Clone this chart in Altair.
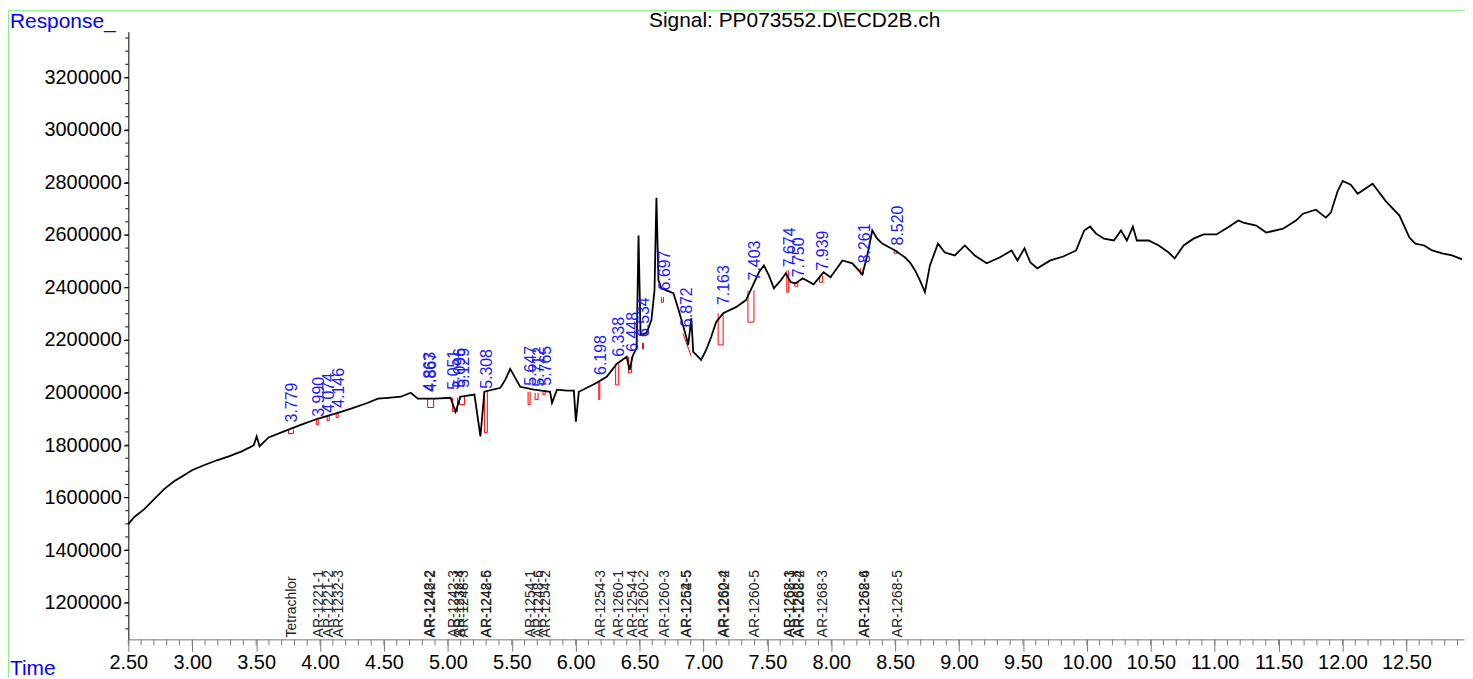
import altair as alt
import pandas as pd

# ---- chromatogram trace ----
time_min = [2.500, 2.547, 2.625, 2.702, 2.780, 2.858, 2.936, 2.998, 3.091, 3.193, 3.286, 3.387,
            3.481, 3.504, 3.527, 3.597, 3.753, 3.854, 3.986, 4.119, 4.243, 4.375, 4.453, 4.531,
            4.632, 4.710, 4.765, 4.897, 5.021, 5.060, 5.099, 5.208, 5.255, 5.286, 5.411, 5.449,
            5.488, 5.527, 5.566, 5.675, 5.800, 5.815, 5.854, 5.932, 5.986, 6.002, 6.025, 6.088,
            6.165, 6.243, 6.321, 6.399, 6.422, 6.446, 6.477, 6.492, 6.508, 6.555, 6.593, 6.617,
            6.632, 6.648, 6.671, 6.710, 6.765, 6.811, 6.866, 6.881, 6.905, 6.920, 6.944, 6.982,
            7.021, 7.060, 7.099, 7.154, 7.255, 7.333, 7.387, 7.434, 7.473, 7.512, 7.551, 7.605,
            7.644, 7.683, 7.722, 7.776, 7.862, 7.940, 7.994, 8.088, 8.165, 8.243, 8.282, 8.321,
            8.360, 8.399, 8.500, 8.578, 8.617, 8.656, 8.694, 8.733, 8.772, 8.835, 8.889, 8.967,
            9.045, 9.123, 9.216, 9.317, 9.411, 9.457, 9.512, 9.558, 9.613, 9.714, 9.815, 9.916,
            9.979, 10.025, 10.072, 10.134, 10.212, 10.267, 10.313, 10.360, 10.391, 10.484, 10.562,
            10.640, 10.687, 10.757, 10.835, 10.913, 11.014, 11.115, 11.185, 11.224, 11.325, 11.403,
            11.535, 11.636, 11.691, 11.792, 11.870, 11.909, 11.963, 12.002, 12.065, 12.119, 12.236,
            12.337, 12.446, 12.524, 12.570, 12.640, 12.702, 12.780, 12.858, 12.936]
response = [1499000, 1526000, 1556000, 1594000, 1632000, 1662000, 1685000, 1704000, 1723000, 1742000, 1757000, 1776000,
            1799000, 1833000, 1795000, 1829000, 1859000, 1878000, 1901000, 1920000, 1939000, 1961000, 1977000, 1980000,
            1984000, 1999000, 1977000, 1977000, 1980000, 1927000, 1984000, 1992000, 1833000, 2003000, 2018000, 2048000,
            2090000, 2056000, 2022000, 2011000, 2003000, 1961000, 2011000, 2007000, 2007000, 1889000, 2003000, 2018000,
            2037000, 2060000, 2109000, 2136000, 2086000, 2139000, 2170000, 2598000, 2219000, 2227000, 2276000, 2389000,
            2742000, 2427000, 2397000, 2389000, 2378000, 2306000, 2211000, 2181000, 2283000, 2155000, 2143000, 2124000,
            2162000, 2211000, 2268000, 2302000, 2325000, 2352000, 2408000, 2458000, 2484000, 2446000, 2397000, 2427000,
            2454000, 2420000, 2416000, 2435000, 2412000, 2458000, 2439000, 2503000, 2492000, 2450000, 2522000, 2617000,
            2586000, 2567000, 2541000, 2514000, 2495000, 2465000, 2427000, 2382000, 2484000, 2567000, 2533000, 2522000,
            2560000, 2522000, 2492000, 2514000, 2541000, 2503000, 2549000, 2495000, 2473000, 2503000, 2518000, 2541000,
            2617000, 2632000, 2605000, 2586000, 2579000, 2617000, 2579000, 2632000, 2579000, 2579000, 2560000,
            2533000, 2511000, 2560000, 2586000, 2602000, 2602000, 2632000, 2655000, 2647000, 2636000, 2609000,
            2624000, 2655000, 2681000, 2696000, 2666000, 2685000, 2768000, 2806000, 2791000, 2757000, 2795000,
            2730000, 2674000, 2590000, 2567000, 2560000, 2541000, 2530000, 2522000, 2507000]

# ---- retention time labels (blue) ----
peak_rt = [3.779, 3.990, 4.074, 4.146, 4.863, 4.867, 5.051, 5.096, 5.129, 5.308, 5.647, 5.712, 5.765,
           6.198, 6.338, 6.448, 6.534, 6.697, 6.872, 7.163, 7.403, 7.674, 7.750, 7.939, 8.261, 8.520]
peak_label_base = [1886000, 1908000, 1923000, 1942000, 2003000, 2003000, 2011000, 2018000, 2018000, 2014000,
                   2026000, 2022000, 2026000, 2067000, 2136000, 2155000, 2211000, 2389000, 2249000, 2333000,
                   2427000, 2477000, 2439000, 2465000, 2492000, 2560000]

# ---- compound names at the bottom ----
comp_rt = [3.779, 3.990, 4.074, 4.146, 4.863, 4.867, 5.051, 5.096, 5.129, 5.308, 5.310, 5.647, 5.712, 5.765,
           6.198, 6.338, 6.448, 6.534, 6.697, 6.872, 6.874, 7.163, 7.165, 7.403, 7.674, 7.676, 7.750, 7.752,
           7.939, 8.261, 8.263, 8.520]
comp_name = ["Tetrachlor", "AR-1221-1", "AR-1221-2", "AR-1232-3", "AR-1248-2", "AR-1242-2", "AR-1242-3",
             "AR-1232-4", "AR-1248-3", "AR-1248-5", "AR-1242-6", "AR-1254-1", "AR-1248-6", "AR-1254-2",
             "AR-1254-3", "AR-1260-1", "AR-1254-4", "AR-1260-2", "AR-1260-3", "AR-1262-5", "AR-1254-5",
             "AR-1260-4", "AR-1262-2", "AR-1260-5", "AR-1268-1", "AR-1262-3", "AR-1262-4", "AR-1268-2",
             "AR-1268-3", "AR-1268-4", "AR-1262-6", "AR-1268-5"]

# ---- red integration baselines ----
red_t1 = [3.753, 3.971, 4.056, 4.126, 4.842, 5.037, 5.091, 5.286, 5.628, 5.683, 5.745, 6.181, 6.313,
          6.414, 6.523, 6.671, 7.115, 7.348, 7.652, 7.714, 7.909, 8.228, 8.492]
red_t2 = [3.792, 3.986, 4.072, 4.142, 4.889, 5.076, 5.130, 5.309, 5.644, 5.706, 5.761, 6.189, 6.337,
          6.438, 6.531, 6.687, 7.154, 7.395, 7.667, 7.739, 7.933, 8.251, 8.516]
red_top = [1859000, 1901000, 1912000, 1920000, 1977000, 1980000, 1988000, 2007000, 2003000, 1999000, 2003000,
           2041000, 2109000, 2136000, 2189000, 2363000, 2302000, 2389000, 2465000, 2420000, 2446000, 2473000, 2541000]
red_bottom = [1844000, 1878000, 1893000, 1905000, 1943000, 1927000, 1954000, 1848000, 1954000, 1973000, 1992000,
              1973000, 2029000, 2075000, 2166000, 2344000, 2181000, 2268000, 2382000, 2405000, 2420000, 2450000, 2530000]
diag_t = [6.839, 6.904]
diag_v = [2225000, 2139000]

x_major = [round(2.5 + 0.5 * i, 2) for i in range(21)]
x_minor = [round(2.5 + 0.1 * i, 1) for i in range(105)]
y_major = [1200000 + 200000 * i for i in range(11)]
y_minor = [1100000 + 50000 * i for i in range(46)]

W, H = 1343, 611
FONT = "Liberation Sans"

xs = alt.Scale(domain=[2.5, 12.951], nice=False, zero=False)
ys = alt.Scale(domain=[1060000, 3374000], nice=False, zero=False)
xaxis = alt.Axis(values=x_major, format=".2f", title=None, tickSize=12, labelFontSize=20, labelFont=FONT,
                 labelColor="black", domainColor="#7a7a7a", tickColor="#7a7a7a", labelPadding=1,
                 grid=False, labelOverlap=False, labelFlush=False)
yaxis = alt.Axis(values=y_major, format="d", title=None, tickSize=5, labelFontSize=20, labelFont=FONT,
                 labelColor="black", domainColor="black", tickColor="black", labelPadding=2,
                 grid=False, labelOverlap=False, labelFlush=False)

curve_df = pd.DataFrame({"t": time_min, "v": response})
lab_df = pd.DataFrame({"t": peak_rt, "v": peak_label_base, "label": [f"{r:.3f}" for r in peak_rt]})
comp_df = pd.DataFrame({"t": comp_rt, "name": comp_name})

segs = []
for a, b, top, bot in zip(red_t1, red_t2, red_top, red_bottom):
    segs.append((a, top, a, bot))
    segs.append((a, bot, b, bot))
    segs.append((b, bot, b, top))
segs.append((diag_t[0], diag_v[0], diag_t[1], diag_v[1]))
seg_df = pd.DataFrame(segs, columns=["xa", "ya", "xb", "yb"])

one = pd.DataFrame({"k": [0]})

frame_left = alt.Chart(one).mark_rule(color="#88ee88", strokeWidth=1).encode(
    x=alt.value(-120.5), y=alt.value(-22), y2=alt.value(H + 38))
frame_top = alt.Chart(one).mark_rule(color="#88ee88", strokeWidth=1).encode(
    x=alt.value(-121), x2=alt.value(W + 1), y=alt.value(-21.5))

red = alt.Chart(seg_df).mark_rule(color="#ff0000", strokeWidth=1).encode(
    x=alt.X("xa:Q", scale=xs, axis=xaxis), x2="xb:Q",
    y=alt.Y("ya:Q", scale=ys, axis=yaxis), y2="yb:Q")

curve = alt.Chart(curve_df).mark_line(color="black", strokeWidth=1.8).encode(
    x=alt.X("t:Q", scale=xs, axis=xaxis), y=alt.Y("v:Q", scale=ys, axis=yaxis))

xminor = alt.Chart(pd.DataFrame({"t": x_minor})).mark_rule(color="#7a7a7a", strokeWidth=1).encode(
    x=alt.X("t:Q", scale=xs, axis=xaxis), y=alt.value(H), y2=alt.value(H + 6))
yminor = alt.Chart(pd.DataFrame({"v": y_minor})).mark_rule(color="black", strokeWidth=1).encode(
    y=alt.Y("v:Q", scale=ys, axis=yaxis), x=alt.value(0), x2=alt.value(-3))

labels = alt.Chart(lab_df).mark_text(angle=270, align="left", baseline="middle", fontSize=16,
                                     font=FONT, color="#1a1aff").encode(
    x=alt.X("t:Q", scale=xs, axis=xaxis), y=alt.Y("v:Q", scale=ys, axis=yaxis), text="label:N")

comps = alt.Chart(comp_df).mark_text(angle=270, align="left", baseline="middle", fontSize=14,
                                     font=FONT, color="#222222").encode(
    x=alt.X("t:Q", scale=xs, axis=xaxis), y=alt.value(H - 2), text="name:N")

title = alt.Chart(one).mark_text(text="Signal: PP073552.D\\ECD2B.ch", align="center", baseline="alphabetic",
                                 fontSize=21, font=FONT, color="black").encode(
    x=alt.value(670), y=alt.value(-5))
resp = alt.Chart(one).mark_text(text="Response_", align="left", baseline="top",
                                fontSize=21, font=FONT, color="#0000ff").encode(
    x=alt.value(-119), y=alt.value(-21))
timet = alt.Chart(one).mark_text(text="Time", align="left", baseline="alphabetic",
                                 fontSize=21, font=FONT, color="#0000ff").encode(
    x=alt.value(-119), y=alt.value(H + 36))

chart = alt.layer(frame_left, frame_top, red, curve, xminor, yminor, labels, comps, title, resp, timet).properties(
    width=W, height=H,
    padding={"left": 121, "top": 22, "right": 1, "bottom": 38},
    autosize=alt.AutoSizeParams(type="none"),
    background="white",
).configure_view(stroke=None)

chart.save("out.html", embed_options={"renderer": "svg", "actions": False})
